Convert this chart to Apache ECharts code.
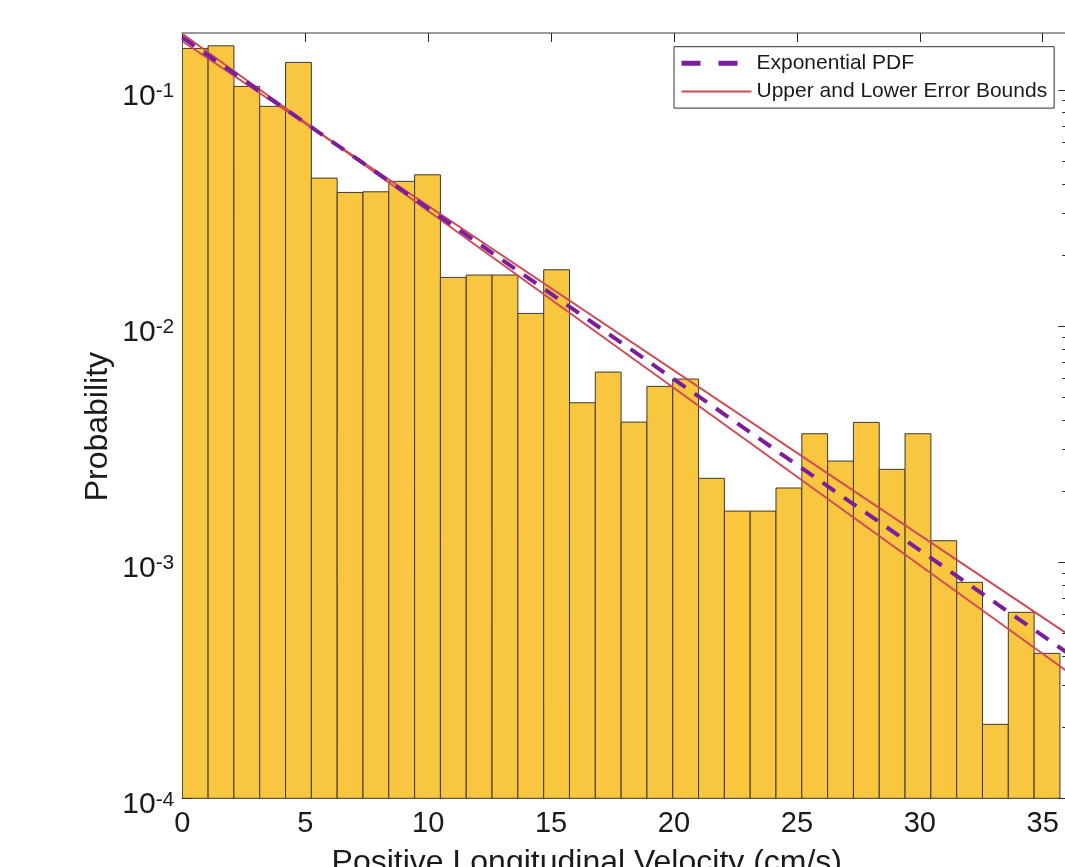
<!DOCTYPE html>
<html>
<head>
<meta charset="utf-8">
<script src="https://cdn.jsdelivr.net/npm/echarts@6/dist/echarts.min.js"></script>
<style>
html,body{margin:0;padding:0;overflow:hidden;background:#ffffff;}
#chart{width:1070px;height:867px;}
</style>
</head>
<body>
<div id="chart"></div>
<script>
// ---- data ----
const binEdges = [0, 1.05, 2.1, 3.15, 4.2, 5.25, 6.3, 7.35, 8.4, 9.45, 10.5, 11.55, 12.6, 13.65, 14.7,
  15.75, 16.8, 17.85, 18.9, 19.95, 21, 22.05, 23.1, 24.15, 25.2, 26.25, 27.3, 28.35, 29.4, 30.45,
  31.5, 32.55, 33.6, 34.65, 35.7];
const binProbabilities = [0.1497, 0.1536, 0.1034, 0.0851, 0.1306, 0.04228, 0.03677, 0.03699, 0.04096,
  0.04366, 0.01606, 0.01643, 0.01643, 0.01130, 0.01730, 0.004729, 0.006379, 0.003917, 0.005549,
  0.005960, 0.002264, 0.001645, 0.001645, 0.002060, 0.003497, 0.002679, 0.003906, 0.002471,
  0.003497, 0.001232, 0.0008214, 0.0002057, 0.0006131, 0.0004109];
const pdfLine = [[0, 0.1667], [36, 0.0004131]];
const boundHigh = [[0, 0.1605], [36, 0.0004965]];
const boundLow = [[0, 0.1727], [36, 0.0003442]];
const xTickValues = [0, 5, 10, 15, 20, 25, 30, 35];
const yTickValues = [0.0001, 0.001, 0.01, 0.1];
const yTickExponents = ['-4', '-3', '-2', '-1'];
const yMinorTickValues = [0.0002, 0.0003, 0.0004, 0.0005, 0.0006, 0.0007, 0.0008, 0.0009,
  0.002, 0.003, 0.004, 0.005, 0.006, 0.007, 0.008, 0.009,
  0.02, 0.03, 0.04, 0.05, 0.06, 0.07, 0.08, 0.09];
const xRange = [0, 36];
const yRange = [0.0001, 0.174];
const seriesNames = ['Exponential PDF', 'Upper and Lower Error Bounds'];
const xTitle = 'Positive Longitudinal Velocity (cm/s)';
const yTitle = 'Probability';

// ---- build chart ----
const FONT = "'Liberation Sans', Arial, Helvetica, sans-serif";
const TXT = '#1a1a1a';
const AXC = '#5a5a5a';
const TKC = '#262626';
const PURPLE = '#7a1e9c';
const RED = '#cc4b56';
const bars = binProbabilities.map((p, i) => [binEdges[i], binEdges[i + 1], p]);

function yAxisBase(pos, ticks, len, showLine) {
  return {
    type: 'log', logBase: 10, position: pos, offset: 0,
    min: yRange[0], max: yRange[1],
    splitLine: { show: false },
    axisLine: { show: showLine, onZero: false, lineStyle: { color: AXC, width: 1 } },
    axisTick: { show: true, inside: true, length: len, customValues: ticks, lineStyle: { color: TKC, width: 1 } },
    axisLabel: { show: false },
    minorTick: { show: false }, minorSplitLine: { show: false }
  };
}

const yLeft = yAxisBase('left', yTickValues, 9, true);
yLeft.axisLabel = {
  show: true, customValues: yTickValues, margin: 8,
  formatter: function (v) {
    let best = 0, bd = Infinity;
    yTickValues.forEach((t, i) => { const d = Math.abs(Math.log10(v) - Math.log10(t)); if (d < bd) { bd = d; best = i; } });
    return '{b|10}{s|' + yTickExponents[best] + '}';
  },
  padding: [13, 0, 0, 0],
  rich: {
    b: { fontSize: 30, fontFamily: FONT, color: TXT, lineHeight: 31 },
    s: { fontSize: 21, fontFamily: FONT, color: TXT, verticalAlign: 'top', lineHeight: 21 }
  }
};
yLeft.name = yTitle;
yLeft.nameLocation = 'middle';
yLeft.nameRotate = 90;
yLeft.nameGap = 68;
yLeft.nameMoveOverlap = false;
yLeft.nameTextStyle = { fontSize: 32, fontFamily: FONT, color: TXT, padding: [0, 22, 0, 0] };

const hiddenDot = { color: 'rgba(0,0,0,0)', borderColor: 'rgba(0,0,0,0)', borderWidth: 0, opacity: 0 };

const option = {
  animation: false,
  backgroundColor: '#ffffff',
  textStyle: { fontFamily: FONT },
  grid: { left: 182.3, top: 33, width: 885, height: 765.3, containLabel: false, outerBoundsMode: 'none' },
  legend: {
    orient: 'vertical', left: 674, top: 46.7,
    backgroundColor: '#ffffff', borderColor: '#333333', borderWidth: 1,
    padding: [6, 7, 6, 5],
    itemWidth: 70, itemHeight: 14, itemGap: 7.4,
    textStyle: { fontSize: 21, fontFamily: FONT, color: TXT, lineHeight: 21 },
    data: [
      { name: seriesNames[0], itemStyle: hiddenDot, lineStyle: { type: [19, 18], width: 5, color: PURPLE, cap: 'butt' } },
      { name: seriesNames[1], itemStyle: hiddenDot, lineStyle: { width: 2, color: RED } }
    ]
  },
  xAxis: [
    {
      type: 'value', position: 'bottom', min: xRange[0], max: xRange[1],
      splitLine: { show: false },
      axisLine: { show: true, onZero: false, lineStyle: { color: AXC, width: 1 } },
      axisTick: { show: true, inside: true, length: 9, customValues: xTickValues, lineStyle: { color: TKC } },
      axisLabel: { show: true, customValues: xTickValues, margin: 11, fontSize: 29, fontFamily: FONT, color: TXT },
      name: xTitle, nameLocation: 'middle', nameGap: 49, nameMoveOverlap: false,
      nameTextStyle: { fontSize: 32, fontFamily: FONT, color: TXT, padding: [0, 76, 0, 0] }
    },
    {
      type: 'value', position: 'top', min: xRange[0], max: xRange[1],
      splitLine: { show: false },
      axisLine: { show: true, onZero: false, lineStyle: { color: '#9a9a9a', width: 2 } },
      axisTick: { show: true, inside: true, length: 9, customValues: xTickValues, lineStyle: { color: TKC } },
      axisLabel: { show: false }
    }
  ],
  yAxis: [
    yLeft,
    yAxisBase('left', yMinorTickValues, 5, false),
    yAxisBase('right', yTickValues, 9, true),
    yAxisBase('right', yMinorTickValues, 5, false)
  ],
  series: [
    {
      type: 'custom', name: 'Histogram', xAxisIndex: 0, yAxisIndex: 0,
      data: bars, encode: { x: [0, 1], y: 2 }, z: 1, clip: true,
      renderItem: function (params, api) {
        const tl = api.coord([api.value(0), api.value(2)]);
        const br = api.coord([api.value(1), yRange[0]]);
        return {
          type: 'rect',
          shape: { x: tl[0], y: tl[1], width: br[0] - tl[0], height: br[1] - tl[1] },
          style: { fill: '#f9c63f', stroke: '#3d3a33', lineWidth: 1 }
        };
      }
    },
    {
      type: 'line', name: seriesNames[1], data: boundHigh, symbol: 'none', z: 3,
      lineStyle: { color: RED, width: 2 }, itemStyle: { color: RED }
    },
    {
      type: 'line', name: seriesNames[1], data: boundLow, symbol: 'none', z: 3,
      lineStyle: { color: RED, width: 2 }, itemStyle: { color: RED }
    },
    {
      type: 'line', name: seriesNames[0], data: pdfLine, symbol: 'none', z: 4,
      lineStyle: { color: PURPLE, width: 4, type: [15, 11], cap: 'butt' }, itemStyle: { color: PURPLE }
    }
  ]
};

const chart = echarts.init(document.getElementById('chart'), null, { renderer: 'canvas' });
chart.setOption(option);
</script>
</body>
</html>
